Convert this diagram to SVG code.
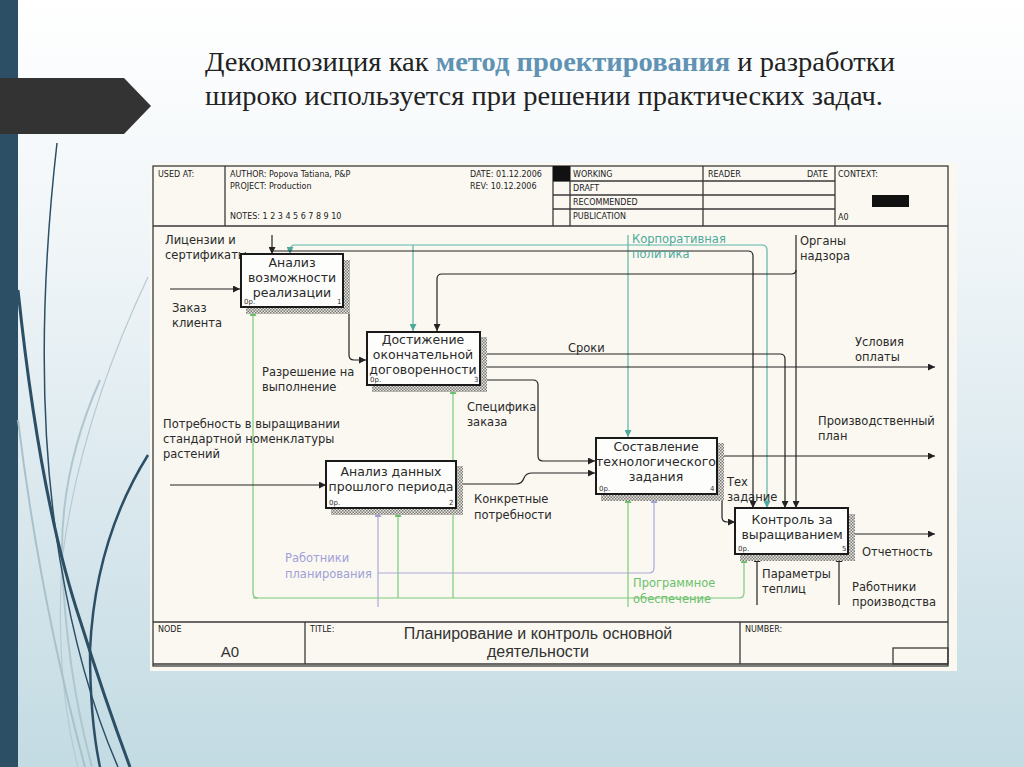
<svg xmlns="http://www.w3.org/2000/svg" width="1024" height="767" viewBox="0 0 1024 767">
<defs>
<linearGradient id="bg" x1="0" y1="0" x2="0" y2="1">
<stop offset="0" stop-color="#ffffff"/>
<stop offset="0.35" stop-color="#eef4f7"/>
<stop offset="1" stop-color="#c3dbe3"/>
</linearGradient>
<pattern id="hatch" width="3" height="3" patternUnits="userSpaceOnUse">
<rect width="3" height="3" fill="#e8e6e0"/>
<rect width="1.5" height="1.5" fill="#7a7a76"/>
<rect x="1.5" y="1.5" width="1.5" height="1.5" fill="#7a7a76"/>
</pattern>
<marker id="ab" viewBox="0 0 10 10" refX="10" refY="5" markerWidth="7" markerHeight="7" orient="auto" markerUnits="userSpaceOnUse"><path d="M0,0 L10,5 L0,10 z" fill="#222"/></marker>
<marker id="at" viewBox="0 0 10 10" refX="10" refY="5" markerWidth="7" markerHeight="7" orient="auto" markerUnits="userSpaceOnUse"><path d="M0,0 L10,5 L0,10 z" fill="#4fa89c"/></marker>
<marker id="ag" viewBox="0 0 10 10" refX="10" refY="5" markerWidth="7" markerHeight="7" orient="auto" markerUnits="userSpaceOnUse"><path d="M0,0 L10,5 L0,10 z" fill="#6cbf6c"/></marker>
<marker id="ap" viewBox="0 0 10 10" refX="10" refY="5" markerWidth="7" markerHeight="7" orient="auto" markerUnits="userSpaceOnUse"><path d="M0,0 L10,5 L0,10 z" fill="#a0a0d8"/></marker>
</defs>
<style>
.frame{fill:none;stroke:#3a3a3a;stroke-width:1.3}
.hdr{font-family:"DejaVu Sans",sans-serif;font-size:8px;fill:#222}
.lbl{font-family:"DejaVu Sans",sans-serif;font-size:11.5px;fill:#2a2a2a}
.lt{fill:#4fa89c}
.lg{fill:#6cbf6c}
.lp{fill:#a0a0d8}
.bt{font-family:"DejaVu Sans",sans-serif;font-size:12.5px;fill:#2a2a2a;text-anchor:middle}
.sm{font-family:"DejaVu Sans",sans-serif;font-size:7px;fill:#333}
.box{fill:#fdfdfb;stroke:#1a1a1a;stroke-width:2}
.blk{fill:none;stroke:#222;stroke-width:1.2}
.teal{fill:none;stroke:#5db5a8;stroke-width:1.2}
.green{fill:none;stroke:#7ccb7c;stroke-width:1.2}
.purp{fill:none;stroke:#aaaadc;stroke-width:1.2}
.ft{font-family:"Liberation Sans",sans-serif;font-size:16px;fill:#333;text-anchor:middle}
.title{font-family:"Liberation Serif",serif;font-size:27px;fill:#222}
</style>
<rect width="1024" height="767" fill="url(#bg)"/>
<g id="decor">
<rect x="0" y="0" width="18" height="767" fill="#2c4f66"/>
<polygon points="0,78 124,78 151,106 124,134 0,134" fill="#333333"/>
<path d="M148,277 Q80,420 62,560 Q55,680 78,767" fill="none" stroke="#b7c9d2" stroke-width="1.2"/>
<path d="M100,380 Q60,470 62,560 Q66,670 92,767" fill="none" stroke="#b0c6cf" stroke-width="2"/>
<path d="M18,420 Q40,600 85,767" fill="none" stroke="#a9c1cb" stroke-width="2"/>
<path d="M57,143 Q30,380 60,560 Q80,680 118,767" fill="none" stroke="#2c4f66" stroke-width="1.5"/>
<path d="M18,290 Q40,500 80,620 Q105,700 130,767" fill="none" stroke="#2c4f66" stroke-width="3"/>
<path d="M148,455 Q95,540 90,650 Q90,720 100,767" fill="none" stroke="#2c4f66" stroke-width="2.5"/>
</g>
<g id="heading">
<text class="title" x="205" y="71" textLength="690" lengthAdjust="spacingAndGlyphs">Декомпозиция как <tspan style="fill:#5f92b3;font-weight:bold">метод проектирования</tspan> и разработки</text>
<text class="title" x="205" y="105" textLength="678" lengthAdjust="spacingAndGlyphs">широко используется при решении практических задач.</text>
</g>
<g id="sheet">
<rect x="150" y="163" width="807" height="508" fill="#faf8f1"/>
<rect class="frame" x="153" y="166" width="795" height="500"/>
<line class="frame" x1="153" y1="226" x2="948" y2="226"/>
<line class="frame" x1="225" y1="166" x2="225" y2="226"/>
<line class="frame" x1="553" y1="166" x2="553" y2="226"/>
<line class="frame" x1="570" y1="166" x2="570" y2="226"/>
<line class="frame" x1="703" y1="166" x2="703" y2="226"/>
<line class="frame" x1="835" y1="166" x2="835" y2="226"/>
<line class="frame" x1="553" y1="181" x2="835" y2="181"/>
<line class="frame" x1="553" y1="195" x2="835" y2="195"/>
<line class="frame" x1="553" y1="209" x2="835" y2="209"/>
<rect x="553" y="166" width="17" height="15" fill="#111"/>
<rect x="872" y="195" width="37" height="12" fill="#111"/>
<text class="hdr" x="158" y="177">USED AT:</text>
<text class="hdr" x="230" y="177">AUTHOR:  Popova Tatiana, P&amp;P</text>
<text class="hdr" x="230" y="189">PROJECT:  Production</text>
<text class="hdr" x="230" y="219">NOTES:  1  2  3  4  5  6  7  8  9  10</text>
<text class="hdr" x="470" y="177">DATE: 01.12.2006</text>
<text class="hdr" x="470" y="189">REV:  10.12.2006</text>
<text class="hdr" x="573" y="177">WORKING</text>
<text class="hdr" x="573" y="191">DRAFT</text>
<text class="hdr" x="573" y="205">RECOMMENDED</text>
<text class="hdr" x="573" y="219">PUBLICATION</text>
<text class="hdr" x="708" y="177">READER</text>
<text class="hdr" x="807" y="177">DATE</text>
<text class="hdr" x="838" y="177">CONTEXT:</text>
<text class="hdr" x="838" y="220">A0</text>
<line class="frame" x1="153" y1="622" x2="948" y2="622"/>
<line class="frame" x1="305" y1="622" x2="305" y2="664"/>
<line class="frame" x1="740" y1="622" x2="740" y2="664"/>
<line class="frame" x1="153" y1="664" x2="948" y2="664"/>
<rect class="frame" x="893" y="648" width="55" height="16"/>
<text class="hdr" x="158" y="632">NODE</text>
<text class="hdr" x="310" y="632">TITLE:</text>
<text class="hdr" x="745" y="632">NUMBER:</text>
<text class="ft" x="230" y="657" style="font-size:15px">A0</text>
<text class="ft" x="538" y="639">Планирование и контроль основной</text>
<text class="ft" x="538" y="657">деятельности</text>
</g>
<g id="connectors">
<path class="purp" d="M378,607 V510" marker-end="url(#ap)"/>
<path class="purp" d="M378,573 H649 Q654,573 654,568 V496" marker-end="url(#ap)"/>
<path class="green" d="M628,607 V496" marker-end="url(#ag)"/>
<path class="green" d="M258,598 Q253,598 253,593 V309" marker-end="url(#ag)"/>
<path class="green" d="M253,598 H739 Q744,598 744,593 V556" marker-end="url(#ag)"/>
<path class="green" d="M398,598 V510" marker-end="url(#ag)"/>
<path class="green" d="M453,598 V387" marker-end="url(#ag)"/>
<path class="teal" d="M628,235 V437" marker-end="url(#at)"/>
<path class="teal" d="M295,245 H762 Q767,245 767,250 V508" marker-end="url(#at)"/>
<path class="teal" d="M295,245 Q290,245 290,250 V254" marker-end="url(#at)"/>
<path class="teal" d="M413,245 V331" marker-end="url(#at)"/>
<path class="blk" d="M272,235 V254" marker-end="url(#ab)"/>
<path class="blk" d="M272,251 H748 Q753,251 753,256 V508" marker-end="url(#ab)"/>
<path class="blk" d="M170,289 H240" marker-end="url(#ab)"/>
<path class="blk" d="M344,300 H344 Q349,300 349,305 V355 Q349,360 354,360 H366" marker-end="url(#ab)"/>
<path class="blk" d="M796,235 V508" marker-end="url(#ab)"/>
<path class="blk" d="M796,270 Q796,274 791,274 H442 Q437,274 437,279 V331" marker-end="url(#ab)"/>
<path class="blk" d="M481,354 H780 Q785,354 785,359 V508" marker-end="url(#ab)"/>
<path class="blk" d="M481,367 H935" marker-end="url(#ab)"/>
<path class="blk" d="M481,380 H533 Q538,380 538,385 V456 Q538,461 543,461 H595" marker-end="url(#ab)"/>
<path class="blk" d="M456,484 H516 Q522,484 524,478 Q526,473 532,473 H595" marker-end="url(#ab)"/>
<path class="blk" d="M170,485 H326" marker-end="url(#ab)"/>
<path class="blk" d="M718,456 H935" marker-end="url(#ab)"/>
<path class="blk" d="M718,478 H721 Q722,478 722,483 V517 Q722,522 727,522 H735" marker-end="url(#ab)"/>
<path class="blk" d="M849,534 H935" marker-end="url(#ab)"/>
<path class="blk" d="M757,605 V555" marker-end="url(#ab)"/>
<path class="blk" d="M839,605 V555" marker-end="url(#ab)"/>
</g>
<g id="labels">
<text class="lbl" x="165" y="244">Лицензии и</text>
<text class="lbl" x="165" y="259">сертификаты</text>
<text class="lbl" x="172" y="312">Заказ</text>
<text class="lbl" x="172" y="327">клиента</text>
<text class="lbl" x="262" y="376">Разрешение на</text>
<text class="lbl" x="262" y="391">выполнение</text>
<text class="lbl" x="163" y="428">Потребность в выращивании</text>
<text class="lbl" x="163" y="443">стандартной номенклатуры</text>
<text class="lbl" x="163" y="458">растений</text>
<text class="lbl" x="467" y="411">Специфика</text>
<text class="lbl" x="467" y="426">заказа</text>
<text class="lbl" x="568" y="352">Сроки</text>
<text class="lbl" x="474" y="503">Конкретные</text>
<text class="lbl" x="474" y="519">потребности</text>
<text class="lbl lt" x="632" y="243">Корпоративная</text>
<text class="lbl lt" x="632" y="258">политика</text>
<text class="lbl" x="800" y="245">Органы</text>
<text class="lbl" x="800" y="260">надзора</text>
<text class="lbl" x="855" y="346">Условия</text>
<text class="lbl" x="855" y="361">оплаты</text>
<text class="lbl" x="818" y="425">Производственный</text>
<text class="lbl" x="818" y="440">план</text>
<text class="lbl" x="727" y="486">Тех</text>
<text class="lbl" x="727" y="501">задание</text>
<text class="lbl" x="862" y="556">Отчетность</text>
<text class="lbl" x="762" y="578">Параметры</text>
<text class="lbl" x="762" y="593">теплиц</text>
<text class="lbl" x="852" y="591">Работники</text>
<text class="lbl" x="852" y="606">производства</text>
<text class="lbl lp" x="285" y="562">Работники</text>
<text class="lbl lp" x="285" y="578">планирования</text>
<text class="lbl lg" x="633" y="587">Программное</text>
<text class="lbl lg" x="633" y="603">обеспечение</text>
</g>
<g id="node1">
<rect x="343" y="260" width="7" height="54" fill="url(#hatch)"/>
<rect x="246" y="307" width="104" height="7" fill="url(#hatch)"/>
<rect class="box" x="241" y="254" width="102" height="53"/>
<text class="bt" x="292" y="267">Анализ</text>
<text class="bt" x="292" y="282">возможности</text>
<text class="bt" x="292" y="297">реализации</text>
<text class="sm" x="244" y="304">0p.</text>
<text class="sm" x="337" y="304">1</text>
</g>
<g id="node2">
<rect x="480" y="337" width="7" height="55" fill="url(#hatch)"/>
<rect x="372" y="385" width="115" height="7" fill="url(#hatch)"/>
<rect class="box" x="367" y="332" width="113" height="53"/>
<text class="bt" x="423" y="344">Достижение</text>
<text class="bt" x="423" y="359">окончательной</text>
<text class="bt" x="423" y="374">договоренности</text>
<text class="sm" x="370" y="382">0p.</text>
<text class="sm" x="474" y="382">3</text>
</g>
<g id="node3">
<rect x="717" y="443" width="7" height="58" fill="url(#hatch)"/>
<rect x="601" y="494" width="123" height="7" fill="url(#hatch)"/>
<rect class="box" x="596" y="438" width="121" height="56"/>
<text class="bt" x="656" y="451">Составление</text>
<text class="bt" x="656" y="466">технологического</text>
<text class="bt" x="656" y="481">задания</text>
<text class="sm" x="599" y="491">0p.</text>
<text class="sm" x="710" y="491">4</text>
</g>
<g id="node4">
<rect x="456" y="466" width="7" height="49" fill="url(#hatch)"/>
<rect x="331" y="508" width="132" height="7" fill="url(#hatch)"/>
<rect class="box" x="326" y="461" width="130" height="47"/>
<text class="bt" x="391" y="476">Анализ данных</text>
<text class="bt" x="391" y="491">прошлого периода</text>
<text class="sm" x="329" y="505">0p.</text>
<text class="sm" x="449" y="505">2</text>
</g>
<g id="node5">
<rect x="848" y="514" width="7" height="47" fill="url(#hatch)"/>
<rect x="740" y="554" width="115" height="7" fill="url(#hatch)"/>
<rect class="box" x="735" y="508" width="113" height="46"/>
<text class="bt" x="792" y="524">Контроль за</text>
<text class="bt" x="792" y="539">выращиванием</text>
<text class="sm" x="738" y="551">0p.</text>
<text class="sm" x="842" y="551">5</text>
</g>
</svg>
